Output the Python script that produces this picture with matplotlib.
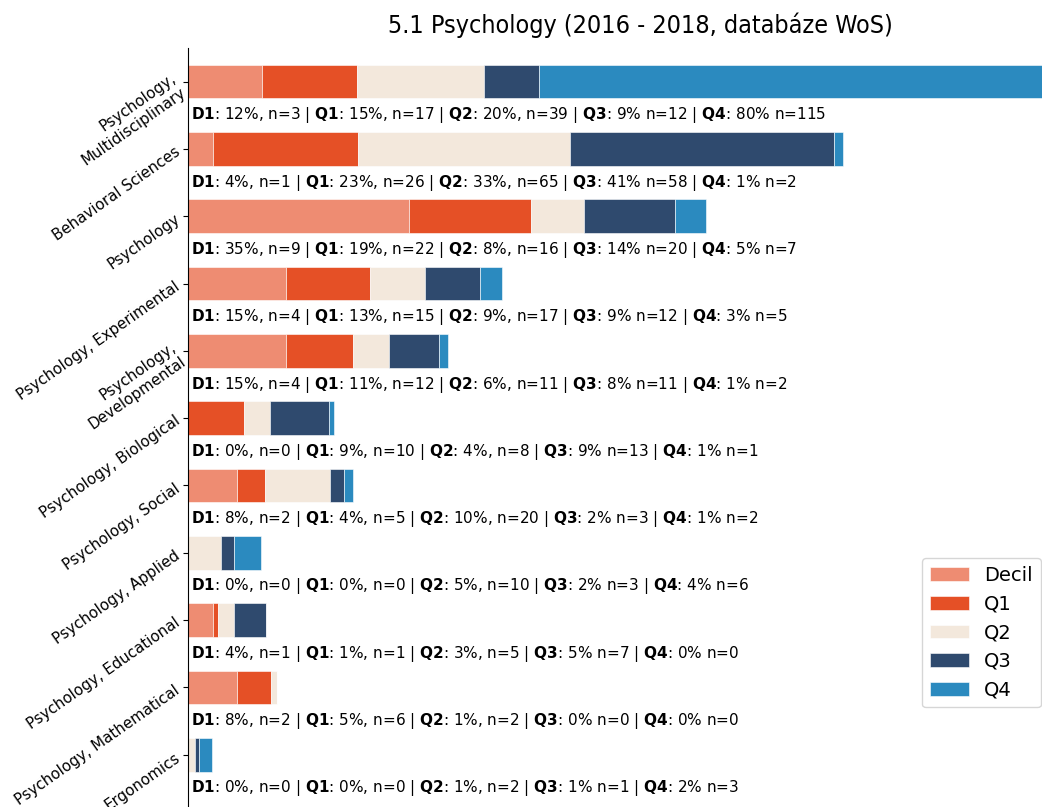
import matplotlib
matplotlib.use("Agg")
import matplotlib.pyplot as plt
import numpy as np

categories = ["Psychology,\nMultidisciplinary", "Behavioral Sciences", "Psychology",
              "Psychology, Experimental", "Psychology,\nDevelopmental", "Psychology, Biological",
              "Psychology, Social", "Psychology, Applied", "Psychology, Educational",
              "Psychology, Mathematical", "Ergonomics"]
series = ["Decil", "Q1", "Q2", "Q3", "Q4"]
short = ["D1", "Q1", "Q2", "Q3", "Q4"]
counts = {
    "Decil": [3, 1, 9, 4, 4, 0, 2, 0, 1, 2, 0],
    "Q1":    [17, 26, 22, 15, 12, 10, 5, 0, 1, 6, 0],
    "Q2":    [39, 65, 16, 17, 11, 8, 20, 10, 5, 2, 2],
    "Q3":    [12, 58, 20, 12, 11, 13, 3, 3, 7, 0, 1],
    "Q4":    [115, 2, 7, 5, 2, 1, 2, 6, 0, 0, 3],
}
colors = ["#ee8c72", "#e55026", "#f3e8dc", "#2f4a6e", "#2b8abf"]

# share of each quartile's papers falling in each category (%)
pct = {s: np.array(counts[s], dtype=float) / sum(counts[s]) * 100 for s in series}

fig = plt.figure(figsize=(10.42, 8.07), dpi=100)
ax = fig.add_axes([188/1042, -15/807, 906/1042, (807-48+15)/807])

y = np.arange(len(categories))
left = np.zeros(len(categories))
for s, c in zip(series, colors):
    vals = pct[s]
    ax.barh(y, vals, left=left, height=0.5, color=c, edgecolor="white", linewidth=0.4, label=s)
    left += vals

for i in range(len(categories)):
    parts = []
    for k, (s, sh) in enumerate(zip(series, short)):
        sep = "," if k < 3 else ""
        parts.append(r"$\bf{%s}$: %.0f%%%s n=%d" % (sh, pct[s][i], sep, counts[s][i]))
    ax.text(0.5, y[i] + 0.5, " | ".join(parts), va="center", ha="left", fontsize=11)

ax.set_ylim(11.0, -0.5)
ax.set_yticks(y)
ax.set_yticklabels(categories, rotation=35, ha="right", rotation_mode="anchor", fontsize=10.8)
ax.tick_params(axis="y", pad=4)
ax.set_xticks([])
for sp in ["top", "right", "bottom"]:
    ax.spines[sp].set_visible(False)

fig.text(640/1042, 1 - 25/807, "5.1 Psychology (2016 - 2018, databáze WoS)", ha="center", va="center",
         fontsize=18, fontstretch="condensed")

ax.legend(loc="upper left", bbox_to_anchor=(922/1042, 1 - 558/807), bbox_transform=fig.transFigure,
          fontsize=14, handlelength=2.0, borderaxespad=0)

fig.savefig("out.png", dpi=100)
